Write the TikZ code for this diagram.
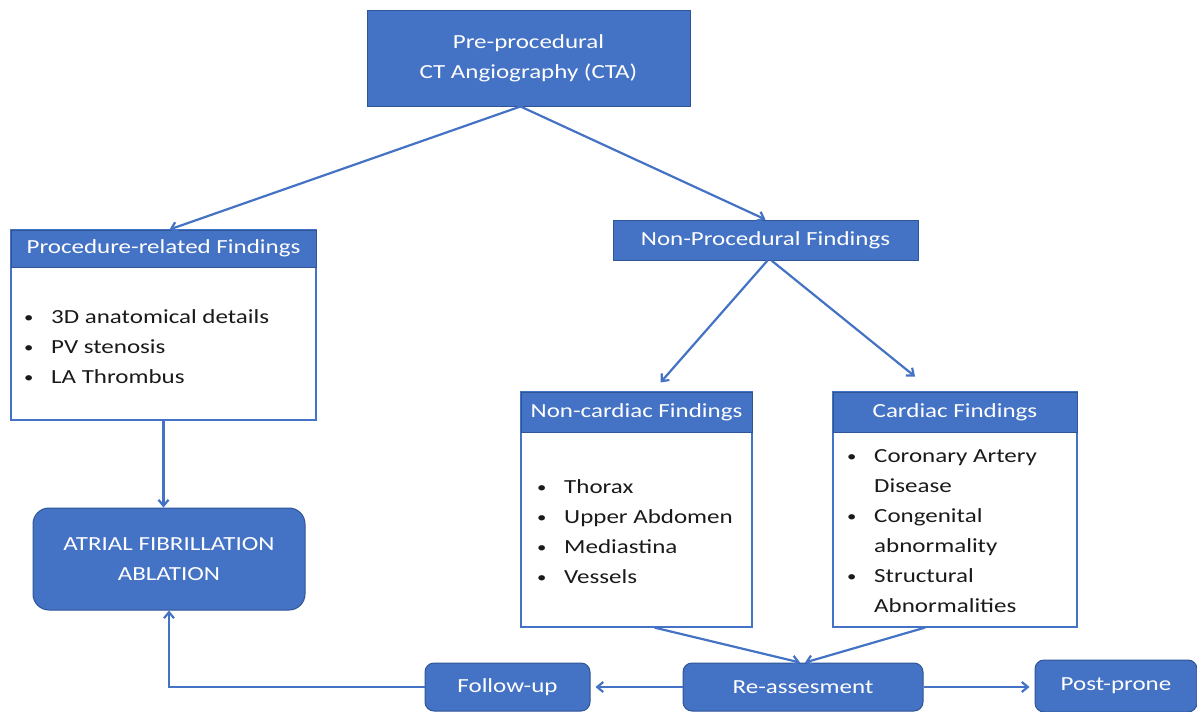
\documentclass[tikz,border=0pt]{standalone}
\usepackage{fontspec}
\setmainfont[FakeStretch=1.25]{Carlito}
\usetikzlibrary{arrows.meta,calc}
\definecolor{boxblue}{HTML}{4472C4}
\definecolor{edgeblue}{HTML}{2F5597}
\definecolor{txtc}{HTML}{1A1A1A}
\newcommand\fsz{\fontsize{20}{30}\selectfont}
\newcommand\bul{\makebox[27pt][l]{\raisebox{1pt}{\fontsize{15}{30}\selectfont\textbullet}}}
\newcommand\ind{\hspace*{27pt}}
\begin{document}
\begin{tikzpicture}[x=1pt,y=-1pt,
  hdr/.style={draw=edgeblue, fill=boxblue, text=white, line width=1pt, font=\fsz, inner sep=0pt, align=center},
  rbox/.style={hdr, rounded corners=12pt},
  body/.style={draw=boxblue, fill=white, line width=1.2pt, inner sep=0pt},
  list/.style={font=\fsz, text=txtc, align=left, inner sep=0pt, anchor=base west},
  arr/.style={draw=boxblue, line width=2.2pt, -{Straight Barb[length=6pt,width=10pt]}}]
\useasboundingbox[fill=white] (0,0) rectangle (1197,712);

% top
\node[hdr, minimum width=323pt, minimum height=96pt] (top) at (528.5,58) {Pre-procedural\\CT Angiography (CTA)};

% procedure-related
\node[body, minimum width=305pt, minimum height=190pt] (procbody) at (163.5,325) {};
\node[hdr, minimum width=305pt, minimum height=37pt] (prochdr) at (163.5,248.5) {Procedure-related Findings};
\node[list] (proclist) at (24,383) {\bul 3D anatomical details\\\bul PV stenosis\\\bul LA Thrombus};

% non-procedural
\node[hdr, minimum width=305pt, minimum height=40pt] (nonproc) at (765.5,240) {Non-Procedural Findings};

% non-cardiac
\node[body, minimum width=231pt, minimum height=235pt] (ncbody) at (636.5,509.5) {};
\node[hdr, minimum width=231pt, minimum height=40pt] (nchdr) at (636.5,412) {Non-cardiac Findings};
\node[list] (nclist) at (537,583) {\bul Thorax\\\bul Upper Abdomen\\\bul Mediastina\\\bul Vessels};

% cardiac
\node[body, minimum width=244pt, minimum height=235pt] (cbody) at (955,509.5) {};
\node[hdr, minimum width=244pt, minimum height=40pt] (chdr) at (955,412) {Cardiac Findings};
\node[list] (clist) at (847,612) {\bul Coronary Artery\\\ind Disease\\\bul Congenital\\\ind abnormality\\\bul Structural\\\ind Abnormalities};

% AF ablation
\node[rbox, minimum width=272pt, minimum height=102pt, rounded corners=16pt] (af) at (169,559) {ATRIAL FIBRILLATION\\ABLATION};

% bottom row
\node[rbox, minimum width=165pt, minimum height=48pt, rounded corners=9pt] (fu) at (507.5,687) {Follow-up};
\node[rbox, minimum width=240pt, minimum height=48pt, rounded corners=9pt] (reass) at (803,687) {Re-assesment};
\node[rbox, minimum width=162pt, minimum height=52pt, rounded corners=9pt] (pp) at (1116,686) {Post-prone};

% connectors
\draw[arr] ($(top.south)+(-8,0)$) -- ($(prochdr.north)+(6,0)$);
\draw[arr] ($(top.south)+(-8,0)$) -- (nonproc.north);
\draw[arr] ($(nonproc.south)+(2,0)$) -- ($(nchdr.north)+(24,-9)$);
\draw[arr] ($(nonproc.south)+(6,0)$) -- ($(chdr.north)+(-40,-15)$);
\draw[arr] (procbody.south) -- (procbody.south |- af.north);
\draw[arr] ($(ncbody.south)+(18,0)$) -- ($(reass.north)+(-3,0)$);
\draw[arr] ($(cbody.south)+(-30,0)$) -- ($(reass.north)+(2,0)$);
\draw[arr] (reass.west) -- ($(fu.east)+(5,0)$);
\draw[arr] (reass.east) -- ($(reass.east -| pp.west)+(-5,0)$);
\draw[arr] (fu.west) -| (af.south);
\end{tikzpicture}
\end{document}
